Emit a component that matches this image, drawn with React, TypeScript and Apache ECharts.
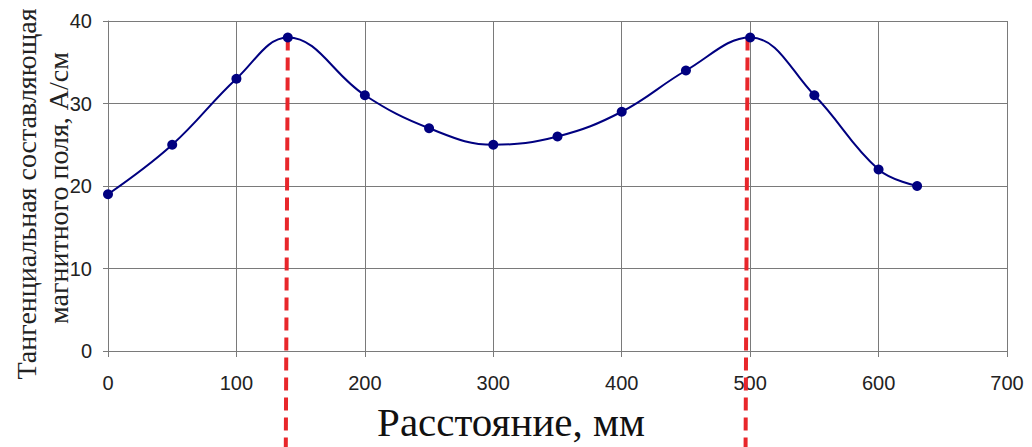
import React, { useEffect, useRef } from "react";
import * as echarts from "echarts";

const distance = [0, 50, 100, 140, 200, 250, 300, 350, 400, 450, 500, 550, 600, 630];
const fieldValues = [19, 25, 33, 38, 31, 27, 25, 26, 29, 34, 38, 31, 22, 20];
const peakLines: [number, number][] = [
  [140, 38],
  [498, 38],
];
const xTitle = "Расстояние, мм";
const yTitleLines = ["Тангенциальная составляющая", "магнитного поля, А/см"];

export default function App() {
  const ref = useRef<HTMLDivElement>(null);
  useEffect(() => {
    if (!ref.current) return;
    const chart = echarts.init(ref.current, null, { renderer: "svg" });
    const gridColor = "#7a7a7a";
    const serif = "Liberation Serif, Times New Roman, serif";
    chart.setOption({
      animation: false,
      backgroundColor: "#ffffff",
      grid: { left: 108, right: 25, top: 21, bottom: 96 },
      xAxis: {
        type: "value",
        min: 0,
        max: 700,
        interval: 100,
        axisLine: { show: true, lineStyle: { color: gridColor, width: 1 } },
        axisTick: { show: true, length: 6, lineStyle: { color: gridColor } },
        axisLabel: {
          color: "#222",
          fontFamily: "Liberation Sans, Arial, sans-serif",
          fontSize: 20,
          margin: 22,
        },
        splitLine: { show: true, lineStyle: { color: gridColor, width: 1 } },
      },
      yAxis: {
        type: "value",
        min: 0,
        max: 40,
        interval: 10,
        axisLine: { show: true, lineStyle: { color: gridColor, width: 1 } },
        axisTick: { show: true, length: 5, lineStyle: { color: gridColor } },
        axisLabel: {
          color: "#222",
          fontFamily: "Liberation Sans, Arial, sans-serif",
          fontSize: 20,
          margin: 16,
        },
        splitLine: { show: true, lineStyle: { color: gridColor, width: 1 } },
      },
      series: [
        {
          type: "line",
          data: distance.map((d, i) => [d, fieldValues[i]]),
          smooth: 0.4,
          symbol: "circle",
          symbolSize: 10,
          lineStyle: { color: "#000080", width: 2 },
          itemStyle: { color: "#000080" },
          z: 5,
        },
        {
          type: "custom",
          clip: false,
          data: peakLines,
          z: 4,
          renderItem: (params: any, api: any) => {
            const top = api.coord([api.value(0), api.value(1)]);
            return {
              type: "line",
              shape: { x1: top[0], y1: top[1], x2: top[0] - 2, y2: api.getHeight() },
              style: {
                stroke: "#e8262b",
                lineWidth: 4,
                lineDash: [13, 7],
              },
            };
          },
        },
      ],
      graphic: [
        {
          type: "text",
          x: 511,
          y: 422,
          style: {
            text: xTitle,
            fontFamily: serif,
            fontSize: 41,
            fill: "#111",
            align: "center",
            verticalAlign: "middle",
          },
        },
        {
          type: "text",
          x: 26,
          y: 194,
          rotation: Math.PI / 2,
          style: {
            text: yTitleLines[0],
            fontFamily: serif,
            fontSize: 28,
            fill: "#222",
            align: "center",
            verticalAlign: "middle",
          },
        },
        {
          type: "text",
          x: 58,
          y: 188,
          rotation: Math.PI / 2,
          style: {
            text: yTitleLines[1],
            fontFamily: serif,
            fontSize: 28,
            fill: "#222",
            align: "center",
            verticalAlign: "middle",
          },
        },
      ],
    });
    return () => chart.dispose();
  }, []);
  return (
    <div
      ref={ref}
      style={{ position: "fixed", left: 0, top: 0, width: 1032, height: 447 }}
    />
  );
}
